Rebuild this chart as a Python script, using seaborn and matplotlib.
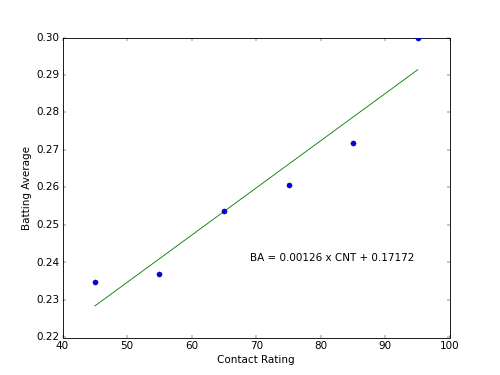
import matplotlib
matplotlib.use('Agg')
import matplotlib.pyplot as plt
import seaborn as sns

# datos
contact = [45, 55, 65, 75, 85, 95]
batting_avg = [0.2347, 0.2368, 0.2536, 0.2608, 0.2719, 0.3000]
fit_x = [45, 95]
fit_y = [0.2284, 0.2914]

plt.style.use('classic')
fig, ax = plt.subplots(figsize=(8, 6))

sns.scatterplot(x=contact, y=batting_avg, ax=ax, color='blue', edgecolor='black',
                s=36, linewidth=0.4, zorder=3)
sns.lineplot(x=fit_x, y=fit_y, ax=ax, color='green', linewidth=1.0)

ax.set_xlim(40, 100)
ax.set_ylim(0.22, 0.30)
ax.set_xlabel('Contact Rating')
ax.set_ylabel('Batting Average')
ax.text(69, 0.2405, 'BA = 0.00126 x CNT + 0.17172', fontsize=12)

fig.savefig('out.png', dpi=62.5, facecolor='white')
